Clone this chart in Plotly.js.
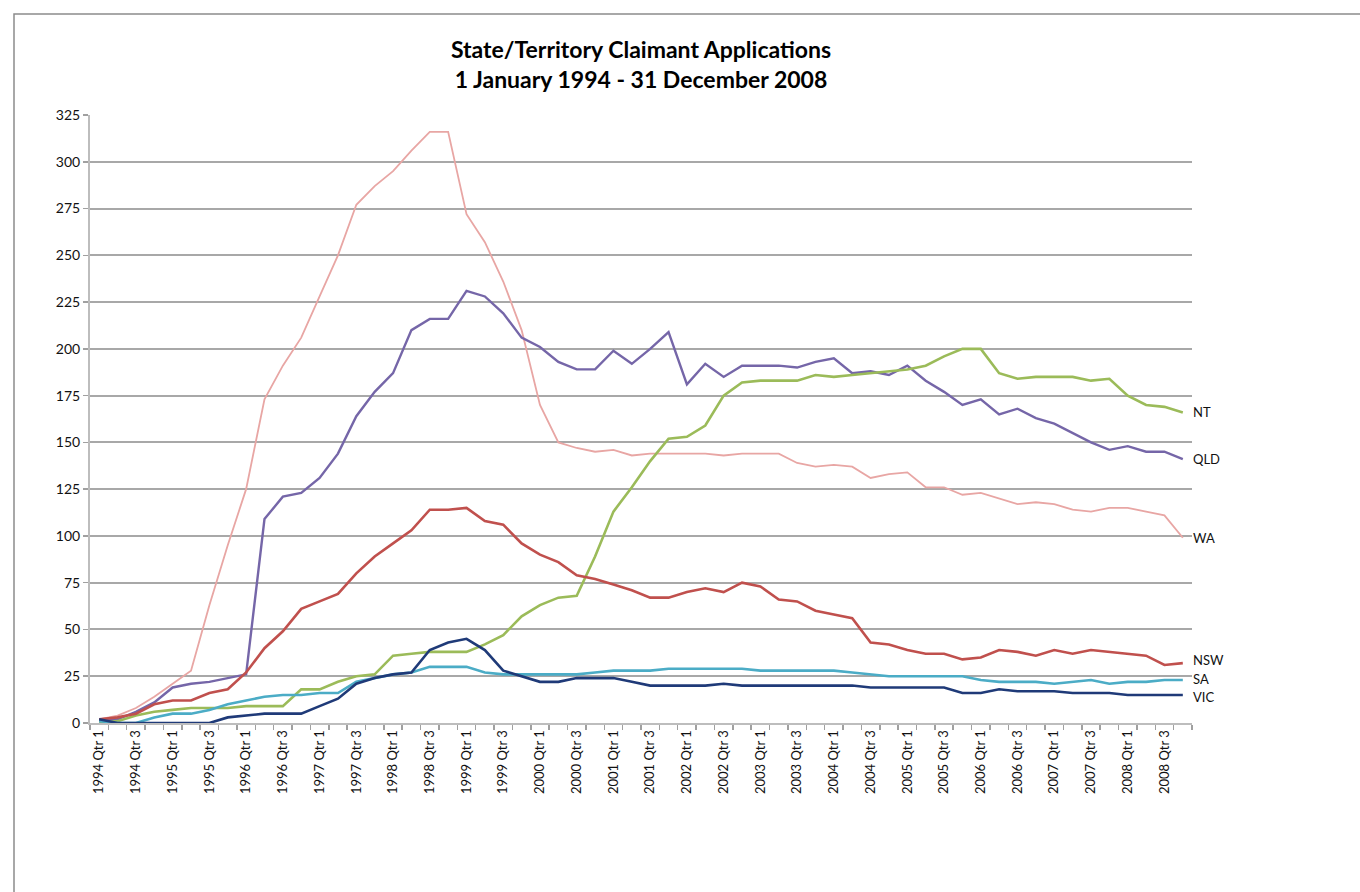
<!DOCTYPE html>
<html>
<head>
<meta charset="utf-8">
<script src="https://cdn.plot.ly/plotly-3.0.1.min.js"></script>
<style>html,body{margin:0;padding:0;background:#fff;}#chart{width:1360px;height:892px;}</style>
</head>
<body>
<div id="chart"></div>
<script>
var quarters = [
"1994 Qtr 1","1994 Qtr 2","1994 Qtr 3","1994 Qtr 4",
"1995 Qtr 1","1995 Qtr 2","1995 Qtr 3","1995 Qtr 4",
"1996 Qtr 1","1996 Qtr 2","1996 Qtr 3","1996 Qtr 4",
"1997 Qtr 1","1997 Qtr 2","1997 Qtr 3","1997 Qtr 4",
"1998 Qtr 1","1998 Qtr 2","1998 Qtr 3","1998 Qtr 4",
"1999 Qtr 1","1999 Qtr 2","1999 Qtr 3","1999 Qtr 4",
"2000 Qtr 1","2000 Qtr 2","2000 Qtr 3","2000 Qtr 4",
"2001 Qtr 1","2001 Qtr 2","2001 Qtr 3","2001 Qtr 4",
"2002 Qtr 1","2002 Qtr 2","2002 Qtr 3","2002 Qtr 4",
"2003 Qtr 1","2003 Qtr 2","2003 Qtr 3","2003 Qtr 4",
"2004 Qtr 1","2004 Qtr 2","2004 Qtr 3","2004 Qtr 4",
"2005 Qtr 1","2005 Qtr 2","2005 Qtr 3","2005 Qtr 4",
"2006 Qtr 1","2006 Qtr 2","2006 Qtr 3","2006 Qtr 4",
"2007 Qtr 1","2007 Qtr 2","2007 Qtr 3","2007 Qtr 4",
"2008 Qtr 1","2008 Qtr 2","2008 Qtr 3","2008 Qtr 4"
];
var tickLabels = [
"1994 Qtr 1","","1994 Qtr 3","","1995 Qtr 1","","1995 Qtr 3","",
"1996 Qtr 1","","1996 Qtr 3","","1997 Qtr 1","","1997 Qtr 3","",
"1998 Qtr 1","","1998 Qtr 3","","1999 Qtr 1","","1999 Qtr 3","",
"2000 Qtr 1","","2000 Qtr 3","","2001 Qtr 1","","2001 Qtr 3","",
"2002 Qtr 1","","2002 Qtr 3","","2003 Qtr 1","","2003 Qtr 3","",
"2004 Qtr 1","","2004 Qtr 3","","2005 Qtr 1","","2005 Qtr 3","",
"2006 Qtr 1","","2006 Qtr 3","","2007 Qtr 1","","2007 Qtr 3","",
"2008 Qtr 1","","2008 Qtr 3",""
];

var wa  = [2,4,8,14,21,28,63,95,125,173, 191,206,228,250,277,287,295,306,316,316, 272,257,236,210,170,150,147,145,146,143, 144,144,144,144,143,144,144,144,139,137, 138,137,131,133,134,126,126,122,123,120, 117,118,117,114,113,115,115,113,111,99];
var qld = [1,2,6,11,19,21,22,24,26,109, 121,123,131,144,164,177,187,210,216,216, 231,228,219,206,201,193,189,189,199,192, 200,209,181,192,185,191,191,191,190,193, 195,187,188,186,191,183,177,170,173,165, 168,163,160,155,150,146,148,145,145,141];
var nt  = [0,1,4,6,7,8,8,8,9,9, 9,18,18,22,25,26,36,37,38,38, 38,42,47,57,63,67,68,89,113,126, 140,152,153,159,175,182,183,183,183,186, 185,186,187,188,189,191,196,200,200,187, 184,185,185,185,183,184,175,170,169,166];
var nsw = [2,3,5,10,12,12,16,18,27,40, 49,61,65,69,80,89,96,103,114,114, 115,108,106,96,90,86,79,77,74,71, 67,67,70,72,70,75,73,66,65,60, 58,56,43,42,39,37,37,34,35,39, 38,36,39,37,39,38,37,36,31,32];
var sa  = [1,0,0,3,5,5,7,10,12,14, 15,15,16,16,22,24,26,27,30,30, 30,27,26,26,26,26,26,27,28,28, 28,29,29,29,29,29,28,28,28,28, 28,27,26,25,25,25,25,25,23,22, 22,22,21,22,23,21,22,22,23,23];
var vic = [2,0,0,0,0,0,0,3,4,5, 5,5,9,13,21,24,26,27,39,43, 45,39,28,25,22,22,24,24,24,22, 20,20,20,20,21,20,20,20,20,20, 20,20,19,19,19,19,19,16,16,18, 17,17,17,16,16,16,15,15,15,15];

var seriesNames = ["WA","QLD","NT","NSW","SA","VIC"];
var seriesData = [wa, qld, nt, nsw, sa, vic];
var seriesColors = ["#E8A6A4","#7566A8","#9BBB59","#C0504D","#4BACC6","#1F3A78"];
var seriesWidths = [1.8, 2.4, 2.6, 2.6, 2.6, 2.6];
var labelNudge = [0, 0, 0, 3, 1, -2];

var traces = seriesData.map(function(d, k){
  return {
    type: "scatter", mode: "lines",
    x: quarters, y: d, name: seriesNames[k],
    line: {color: seriesColors[k], width: seriesWidths[k]},
    hoverinfo: "x+y+name"
  };
});

var annotations = seriesData.map(function(d, k){
  return {
    x: quarters[quarters.length-1], y: d[d.length-1],
    xref: "x", yref: "y",
    text: seriesNames[k], showarrow: false,
    xanchor: "left", yanchor: "middle", xshift: 9, yshift: labelNudge[k],
    borderpad: 0,
    font: {family: "Lato, 'Open Sans', sans-serif", size: 13, color: "#111"}
  };
});

var layout = {
  width: 1360, height: 892,
  paper_bgcolor: "#ffffff", plot_bgcolor: "#ffffff",
  margin: {l: 90, r: 168, t: 115, b: 169, pad: 0},
  showlegend: false,
  font: {family: "Lato, 'Open Sans', sans-serif", color: "#111"},
  title: {
    text: "<b>State/Territory Claimant Applications<br>1 January 1994 - 31 December 2008</b>",
    x: 0.5, xref: "paper", xanchor: "center",
    y: 0.935, yref: "container", yanchor: "top",
    font: {family: "Lato, 'Open Sans', sans-serif", size: 23, color: "#000"}
  },
  xaxis: {
    type: "category",
    range: [-0.5, 59.5],
    tickmode: "array", tickvals: quarters, ticktext: tickLabels,
    tickson: "boundaries",
    ticks: "outside", ticklen: 5, tickcolor: "#a0a0a0", tickwidth: 1.5,
    tickangle: -90,
    tickfont: {family: "Lato, 'Open Sans', sans-serif", size: 13, color: "#111"},
    showgrid: false, zeroline: false,
    showline: true, linecolor: "#bdbdbd", linewidth: 2,
    fixedrange: true
  },
  yaxis: {
    range: [0, 325],
    tickmode: "linear", tick0: 0, dtick: 25,
    ticks: "outside", ticklen: 5, tickcolor: "#a0a0a0", tickwidth: 1.5,
    tickfont: {family: "Lato, 'Open Sans', sans-serif", size: 14, color: "#111"},
    showgrid: true, gridcolor: "#a8a8a8", gridwidth: 2,
    zeroline: false,
    showline: true, linecolor: "#bdbdbd", linewidth: 2,
    fixedrange: true
  },
  annotations: annotations,
  shapes: [{
    type: "rect", xref: "paper", yref: "paper",
    x0: (14-90)/1102, x1: (1375-90)/1102,
    y0: (723-905)/608, y1: (723-14)/608,
    line: {color: "#8c8c8c", width: 1.5}, fillcolor: "rgba(0,0,0,0)", layer: "below"
  }]
};

Plotly.newPlot("chart", traces, layout, {staticPlot: true, displayModeBar: false});
</script>
</body>
</html>
